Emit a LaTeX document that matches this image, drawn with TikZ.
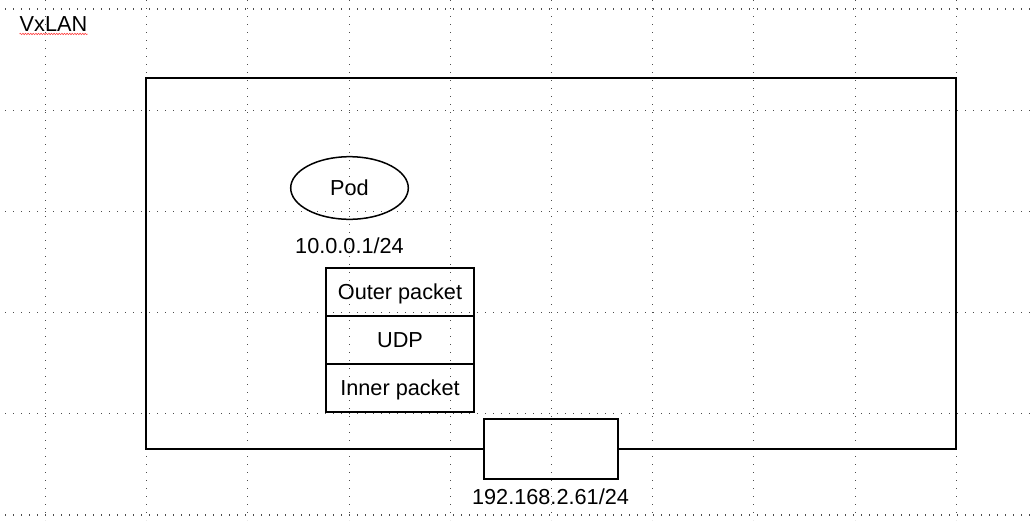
\documentclass[tikz,border=0pt]{standalone}
\usepackage{fontspec}
\setmainfont{Liberation Sans}
\usetikzlibrary{shapes.geometric,decorations.pathmorphing}
\tikzset{
  gridline/.style={black!70, line width=1.1pt, dash pattern=on 1.1pt off 6.9pt},
  lbl/.style={inner sep=0pt, text height=15.5pt, text depth=0pt, font=\fontsize{21.7}{26}\selectfont},
  rowbox/.style={lbl, draw, line width=2pt, outer sep=0pt, minimum width=148pt, minimum height=48pt},
  podshape/.style={lbl, ellipse, draw, line width=1.5pt, minimum width=117.6pt, minimum height=62.6pt},
  ethbox/.style={draw, line width=2pt, outer sep=0pt, inner sep=0pt, minimum width=134pt, minimum height=60pt},
  hostline/.style={line width=2pt},
}
\begin{document}
\begin{tikzpicture}[x=1pt,y=-1pt]
\useasboundingbox (0,0) rectangle (1034,520);
% background grid
\foreach \i in {0,...,9} {
  \draw[gridline] ({45.5+101.2*\i},0) -- ({45.5+101.2*\i},520);
}
\foreach \j in {0,...,5} {
  \draw[gridline] (5,{9+101.2*\j}) -- (1034,{9+101.2*\j});
}
% title
\node[lbl, anchor=west] (title) at (19.5,23.5) {VxLAN};
\draw[red!75, line width=0.6pt, decorate, decoration={snake, amplitude=0.7pt, segment length=2.6pt}]
  (title.south west) ++(0,2.5) coordinate (ul1) -- (ul1 -| title.south east);
% host frame (invisible node) and interface box
\node[minimum width=810pt, minimum height=371pt, inner sep=0pt, outer sep=0pt] (host) at (551,263.5) {};
\node[ethbox] (eth) at (551,449) {};
\draw[hostline] (eth.west) -- (eth.west -| host.west) |- (host.north) -| (host.east) |- (eth.east);
\node[lbl] (ethip) at (550.5,497) {192.168.2.61/24};
% pod
\node[podshape] (pod) at (349.5,188) {Pod};
\node[lbl] (podip) at (349.5,245.8) {10.0.0.1/24};
% packet stack
\node[rowbox] (outer) at (400,292) {Outer packet};
\node[rowbox, anchor=north] (udp) at (outer.south) {UDP};
\node[rowbox, anchor=north] (inner) at (udp.south) {Inner packet};
\end{tikzpicture}
\end{document}
